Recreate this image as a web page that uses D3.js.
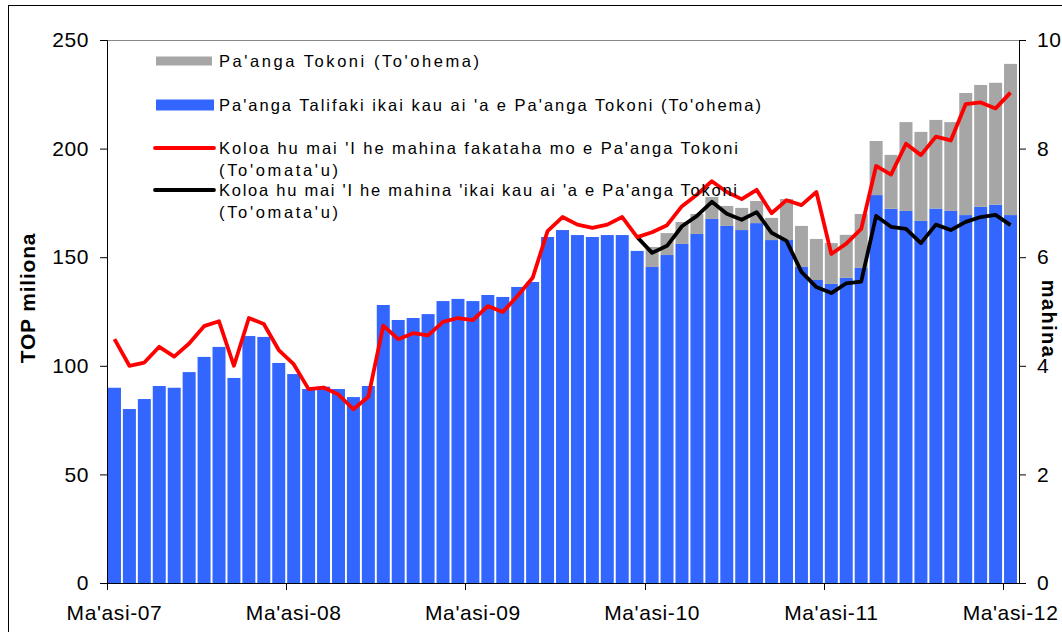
<!DOCTYPE html>
<html>
<head>
<meta charset="utf-8">
<script src="https://cdn.jsdelivr.net/npm/d3@7"></script>
<style>
  body { margin: 0; background: #fff; }
  text { font-family: "Liberation Sans", Arial, sans-serif; }
</style>
</head>
<body>
<div id="chart"></div>
<script>
// month names (Tongan), categories run Ma'asi-07 .. Ma'asi-12
var monthNames = ["Sanuali", "Fepueli", "Ma'asi", "'Epeleli", "Me", "Sune", "Siulai", "'Aokosi", "Sepitema", "'Okatopa", "Novema", "Tisema"];
var categories = d3.range(61).map(function (i) {
    var m = (2 + i) % 12, yr = 7 + Math.floor((2 + i) / 12);
    return monthNames[m] + "-" + (yr < 10 ? "0" + yr : yr);
});
var tickLabels = ["Ma'asi-07", "Ma'asi-08", "Ma'asi-09", "Ma'asi-10", "Ma'asi-11", "Ma'asi-12"];

// Pa'anga Talifaki ikai kau ai 'a e Pa'anga Tokoni (TOP m)
var blueValues = [89.9, 80.1, 84.7, 90.7, 89.9, 97.1, 104.1, 108.7, 94.4, 113.7, 113.3, 101.3,
    96.2, 89.3, 90.4, 89.3, 85.6, 90.7, 128.0, 121.1, 122.0, 123.8, 129.8, 130.8,
    129.8, 132.6, 131.7, 136.3, 138.6, 159.3, 162.5, 160.2, 159.3, 160.2, 160.2, 152.9,
    145.5, 151.0, 156.1, 160.7, 167.6, 164.4, 162.5, 165.7, 157.9, 157.9, 145.5, 139.5,
    137.7, 140.5, 145.1, 178.6, 172.3, 171.3, 166.7, 172.4, 171.3, 169.4, 173.2, 174.2,
    169.4];
// Pa'anga Tokoni (TOP m)
var grayValues = [0, 0, 0, 0, 0, 0, 0, 0, 0, 0, 0, 0,
    0, 0, 0, 0, 0, 0, 0, 0, 0, 0, 0, 0,
    0, 0, 0, 0, 0, 0, 0, 0, 0, 0, 0, 0,
    9.2, 10.1, 10.1, 9.2, 10.1, 9.2, 10.2, 10.2, 10.2, 18.9, 18.9, 18.9,
    18.8, 19.8, 24.8, 24.9, 24.8, 40.9, 41.0, 40.8, 40.9, 56.2, 56.1, 56.1,
    69.6];
// months of import cover incl. budget support
var redValues = [4.49, 4.0, 4.06, 4.35, 4.17, 4.41, 4.73, 4.82, 4.0, 4.88, 4.77, 4.29,
    4.03, 3.57, 3.6, 3.47, 3.2, 3.43, 4.74, 4.49, 4.6, 4.56, 4.81, 4.88,
    4.84, 5.10, 4.99, 5.29, 5.62, 6.48, 6.74, 6.6, 6.54, 6.6, 6.74, 6.37,
    6.46, 6.59, 6.94, 7.15, 7.40, 7.2, 7.07, 7.24, 6.81, 7.05, 6.96, 7.2,
    6.06, 6.25, 6.52, 7.68, 7.52, 8.09, 7.88, 8.22, 8.15, 8.82, 8.85, 8.74,
    9.03];
// months of import cover excl. budget support
var blackValues = [null, null, null, null, null, null, null, null, null, null, null, null,
    null, null, null, null, null, null, null, null, null, null, null, null,
    null, null, null, null, null, null, null, null, null, null, null, 6.37,
    6.08, 6.21, 6.57, 6.76, 7.02, 6.8, 6.69, 6.83, 6.45, 6.3, 5.73, 5.45,
    5.34, 5.52, 5.55, 6.76, 6.56, 6.52, 6.26, 6.6, 6.5, 6.65, 6.74, 6.78,
    6.59];

var leftTicks = [0, 50, 100, 150, 200, 250];
var rightTicks = [0, 2, 4, 6, 8, 10];

var width = 1062, height = 632;
var plotL = 107, plotR = 1019, plotT = 40, plotB = 583;

var svg = d3.select("#chart").append("svg")
    .attr("width", width)
    .attr("height", height);

// outer frame
svg.append("rect")
    .attr("x", 8.5).attr("y", 5.5)
    .attr("width", 1200).attr("height", 800)
    .attr("fill", "none").attr("stroke", "#000");

var x = d3.scaleBand()
    .domain(categories)
    .range([plotL, plotR - 1])
    .paddingInner(0.13)
    .paddingOuter(0.065);

var yL = d3.scaleLinear().domain([0, 250]).range([plotB, plotT]);
var yR = d3.scaleLinear().domain([0, 10]).range([plotB, plotT]);

// top border of plot area
svg.append("line")
    .attr("x1", plotL).attr("x2", plotR)
    .attr("y1", plotT + 0.5).attr("y2", plotT + 0.5)
    .attr("stroke", "#888");

var rows = categories.map(function (c, i) {
    return { cat: c, blue: blueValues[i], gray: grayValues[i], red: redValues[i], black: blackValues[i] };
});

// bars
svg.append("g").selectAll("rect")
    .data(rows)
    .enter().append("rect")
    .attr("x", function (d) { return x(d.cat); })
    .attr("width", x.bandwidth())
    .attr("y", function (d) { return yL(d.blue); })
    .attr("height", function (d) { return yL(0) - yL(d.blue); })
    .attr("fill", "#3366ff");

svg.append("g").selectAll("rect")
    .data(rows.filter(function (d) { return d.gray > 0; }))
    .enter().append("rect")
    .attr("x", function (d) { return x(d.cat); })
    .attr("width", x.bandwidth())
    .attr("y", function (d) { return yL(d.blue + d.gray); })
    .attr("height", function (d) { return yL(d.blue) - yL(d.blue + d.gray); })
    .attr("fill", "#a6a6a6");

// lines
function makeLine(key) {
    return d3.line()
        .defined(function (d) { return d[key] != null; })
        .x(function (d) { return x(d.cat) + x.bandwidth() / 2; })
        .y(function (d) { return yR(d[key]); });
}
svg.append("path")
    .datum(rows)
    .attr("d", makeLine("black"))
    .attr("fill", "none").attr("stroke", "#000")
    .attr("stroke-width", 3.8).attr("stroke-linejoin", "round");
svg.append("path")
    .datum(rows)
    .attr("d", makeLine("red"))
    .attr("fill", "none").attr("stroke", "#ff0000")
    .attr("stroke-width", 3.8).attr("stroke-linejoin", "round");

// left axis
var axL = svg.append("g")
    .attr("transform", "translate(" + plotL + ",0)")
    .call(d3.axisLeft(yL).tickValues(leftTicks).tickSize(7).tickPadding(11));
// right axis
var axR = svg.append("g")
    .attr("transform", "translate(" + plotR + ",0)")
    .call(d3.axisRight(yR).tickValues(rightTicks).tickSize(7).tickPadding(11));

// bottom axis: labels at the March bars, tick marks at year boundaries
var marchCats = categories.filter(function (c, i) { return i % 12 === 0; });
var axB = svg.append("g")
    .attr("transform", "translate(0," + plotB + ")")
    .call(d3.axisBottom(x).tickValues(marchCats).tickSize(0).tickPadding(22)
        .tickFormat(function (d, i) { return tickLabels[i]; }));
axB.select(".domain").remove();
svg.append("line")
    .attr("x1", plotL).attr("x2", plotR)
    .attr("y1", plotB + 0.5).attr("y2", plotB + 0.5)
    .attr("stroke", "#000");
svg.append("g").selectAll("line")
    .data(marchCats)
    .enter().append("line")
    .attr("x1", function (d) { return Math.round(x(d) - x.step() * 0.065) + 0.5; })
    .attr("x2", function (d) { return Math.round(x(d) - x.step() * 0.065) + 0.5; })
    .attr("y1", plotB).attr("y2", plotB + 7)
    .attr("stroke", "#000");

[axL, axR, axB].forEach(function (g) {
    g.selectAll("text")
        .attr("fill", "#000")
        .style("font-size", "21px")
        .style("letter-spacing", "0.6px");
    g.selectAll("line, path").attr("stroke", "#000");
});

// axis titles
svg.append("text")
    .attr("transform", "translate(35,298) rotate(-90)")
    .attr("text-anchor", "middle")
    .style("font-size", "21px").style("font-weight", "bold")
    .style("letter-spacing", "0.8px")
    .text("TOP miliona");
svg.append("text")
    .attr("transform", "translate(1042,319) rotate(90)")
    .attr("text-anchor", "middle")
    .style("font-size", "20px").style("font-weight", "bold")
    .style("letter-spacing", "1.4px")
    .text("mahina");

// legend
var legendItems = [
    { type: "rect", color: "#a6a6a6", y: 61, lines: ["Pa'anga Tokoni (To'ohema)"], widths: [260] },
    { type: "rect", color: "#3366ff", y: 105, lines: ["Pa'anga Talifaki ikai kau ai 'a e Pa'anga Tokoni (To'ohema)"], widths: [542] },
    { type: "line", color: "#ff0000", y: 148, lines: ["Koloa hu mai 'I he mahina fakataha mo e Pa'anga Tokoni", "(To'omata'u)"], widths: [519, 119] },
    { type: "line", color: "#000", y: 190, lines: ["Koloa hu mai 'I he mahina 'ikai kau ai 'a e Pa'anga Tokoni", "(To'omata'u)"], widths: [518, 119] }
];
var leg = svg.append("g");
legendItems.forEach(function (it, n) {
    if (it.type === "rect") {
        var h = n === 0 ? 9 : 11;
        leg.append("rect")
            .attr("x", 156).attr("y", it.y - h / 2)
            .attr("width", n === 0 ? 56 : 58).attr("height", h)
            .attr("fill", it.color);
    } else {
        leg.append("line")
            .attr("x1", 155).attr("x2", 214)
            .attr("y1", it.y).attr("y2", it.y)
            .attr("stroke", it.color).attr("stroke-width", 3.8)
            .attr("stroke-linecap", "round");
    }
    it.lines.forEach(function (t, k) {
        leg.append("text")
            .attr("x", 219)
            .attr("y", it.y + k * 22)
            .attr("dy", "0.35em")
            .attr("textLength", it.widths[k])
            .attr("lengthAdjust", "spacing")
            .style("font-size", "16.5px")
            .text(t);
    });
});
</script>
</body>
</html>
